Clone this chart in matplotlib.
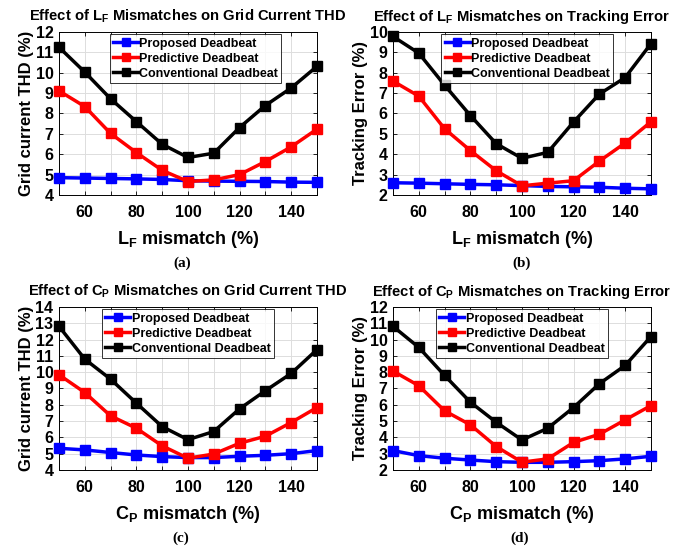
import matplotlib
matplotlib.use("Agg")
import matplotlib.pyplot as plt
from matplotlib.ticker import MultipleLocator

mismatch = [50, 60, 70, 80, 90, 100, 110, 120, 130, 140, 150]
series_names = ["Proposed Deadbeat", "Predictive Deadbeat", "Conventional Deadbeat"]

# (a) L_F mismatch -> THD
a_prop = [4.85, 4.83, 4.81, 4.79, 4.76, 4.70, 4.68, 4.67, 4.66, 4.63, 4.62]
a_pred = [9.11, 8.34, 7.02, 6.08, 5.21, 4.66, 4.74, 5.00, 5.64, 6.36, 7.23]
a_conv = [11.25, 10.03, 8.72, 7.60, 6.49, 5.84, 6.05, 7.31, 8.39, 9.25, 10.31]

# (b) L_F mismatch -> tracking error
b_prop = [2.60, 2.58, 2.55, 2.52, 2.50, 2.46, 2.42, 2.40, 2.38, 2.33, 2.30]
b_pred = [7.59, 6.85, 5.25, 4.18, 3.19, 2.45, 2.58, 2.70, 3.66, 4.55, 5.59]
b_conv = [9.78, 8.96, 7.39, 5.90, 4.52, 3.80, 4.09, 5.58, 6.95, 7.76, 9.42]

# (c) C_P mismatch -> THD
c_prop = [5.33, 5.23, 5.07, 4.92, 4.82, 4.76, 4.76, 4.84, 4.90, 5.00, 5.19]
c_pred = [9.84, 8.75, 7.32, 6.56, 5.48, 4.72, 4.98, 5.64, 6.07, 6.91, 7.83]
c_conv = [12.81, 10.80, 9.57, 8.10, 6.66, 5.86, 6.36, 7.75, 8.86, 9.92, 11.38]

# (d) C_P mismatch -> tracking error
d_prop = [3.19, 2.88, 2.72, 2.61, 2.51, 2.47, 2.47, 2.51, 2.57, 2.68, 2.84]
d_pred = [8.07, 7.17, 5.63, 4.77, 3.44, 2.48, 2.68, 3.69, 4.19, 5.07, 5.95]
d_conv = [10.81, 9.52, 7.80, 6.16, 4.93, 3.84, 4.56, 5.83, 7.29, 8.41, 10.18]

xticks = [60, 80, 100, 120, 140]

panels = [
    dict(data=(a_prop, a_pred, a_conv), ylim=(4, 12), title=r"Effect of L$_\mathbf{F}$ Mismatches on Grid Current THD",
         ylabel="Grid current THD (%)", xlabel=r"L$_\mathbf{F}$ mismatch (%)", cap="(a)",
         pos=[0.0844, 0.6455, 0.369, 0.2964], leg=0.53, capx=0.261),
    dict(data=(b_prop, b_pred, b_conv), ylim=(2, 10), title=r"Effect of L$_\mathbf{F}$ Mismatches on Tracking Error",
         ylabel="Tracking Error (%)", xlabel=r"L$_\mathbf{F}$ mismatch (%)", cap="(b)",
         pos=[0.5622, 0.6455, 0.369, 0.2964], leg=0.52, capx=0.746),
    dict(data=(c_prop, c_pred, c_conv), ylim=(4, 14), title=r"Effect of C$_\mathbf{P}$ Mismatches on Grid Current THD",
         ylabel="Grid current THD (%)", xlabel=r"C$_\mathbf{P}$ mismatch (%)", cap="(c)",
         pos=[0.0844, 0.1455, 0.369, 0.2964], leg=0.50, capx=0.258),
    dict(data=(d_prop, d_pred, d_conv), ylim=(2, 12), title=r"Effect of C$_\mathbf{P}$ Mismatches on Tracking Error",
         ylabel="Tracking Error (%)", xlabel=r"C$_\mathbf{P}$ mismatch (%)", cap="(d)",
         pos=[0.5622, 0.1455, 0.369, 0.2964], leg=0.50, capx=0.743),
]

colors = ["#0000ff", "#ff0000", "#000000"]

plt.rcParams['font.family'] = ['Liberation Sans', 'DejaVu Sans']
plt.rcParams['font.weight'] = 'bold'
plt.rcParams['mathtext.fontset'] = 'custom'
plt.rcParams['mathtext.bf'] = 'Liberation Sans:bold'
plt.rcParams['mathtext.rm'] = 'Liberation Sans:bold'
plt.rcParams['mathtext.default'] = 'bf'

fig = plt.figure(figsize=(6.99, 5.5), dpi=100)

for p in panels:
    ax = fig.add_axes(p["pos"])
    for vals, name, col in zip(p["data"], series_names, colors):
        ax.plot(mismatch, vals, color=col, lw=2.5, marker='s', ms=6.5, label=name, clip_on=False, zorder=3)
    ax.set_xlim(50, 150)
    ax.set_ylim(*p["ylim"])
    ax.set_xticks(xticks)
    ax.xaxis.set_minor_locator(MultipleLocator(10))
    ax.set_yticks(range(p["ylim"][0], p["ylim"][1] + 1))
    ax.grid(True, which='both', axis='x', color='#dddddd', lw=0.7)
    ax.grid(True, which='major', axis='y', color='#dddddd', lw=0.7)
    ax.set_axisbelow(True)
    ax.tick_params(axis='x', which='both', direction='in', top=True, length=3, width=0.6)
    ax.tick_params(axis='x', which='major', labelsize=11.5, pad=7)
    ax.tick_params(axis='y', direction='in', right=True, labelsize=11.5, length=3, width=0.6, pad=4)
    for lab in ax.get_xticklabels() + ax.get_yticklabels():
        lab.set_fontweight('bold')
    for s in ax.spines.values():
        s.set_linewidth(0.7)
    ax.set_title(p["title"], fontsize=10.6, fontweight='bold', pad=8)
    ax.set_ylabel(p["ylabel"], fontsize=12, fontweight='bold', labelpad=1)
    ax.set_xlabel(p["xlabel"], fontsize=13, fontweight='bold', labelpad=7)
    leg = ax.legend(loc='upper center', bbox_to_anchor=(p["leg"], 1.0), fontsize=9,
                    frameon=True, fancybox=False, edgecolor='black', handlelength=2.0,
                    handletextpad=0.1, borderpad=0.25, labelspacing=0.25, borderaxespad=0.2,
                    markerscale=0.8)
    leg.get_frame().set_linewidth(0.7)
    for t in leg.get_texts():
        t.set_fontweight('bold')
    bb = p["pos"]
    fig.text(p["capx"], bb[1] - 0.125, p["cap"], ha='center', va='center',
             fontsize=11, fontweight='bold', family='Liberation Serif')

fig.savefig("out.png", dpi=100)
